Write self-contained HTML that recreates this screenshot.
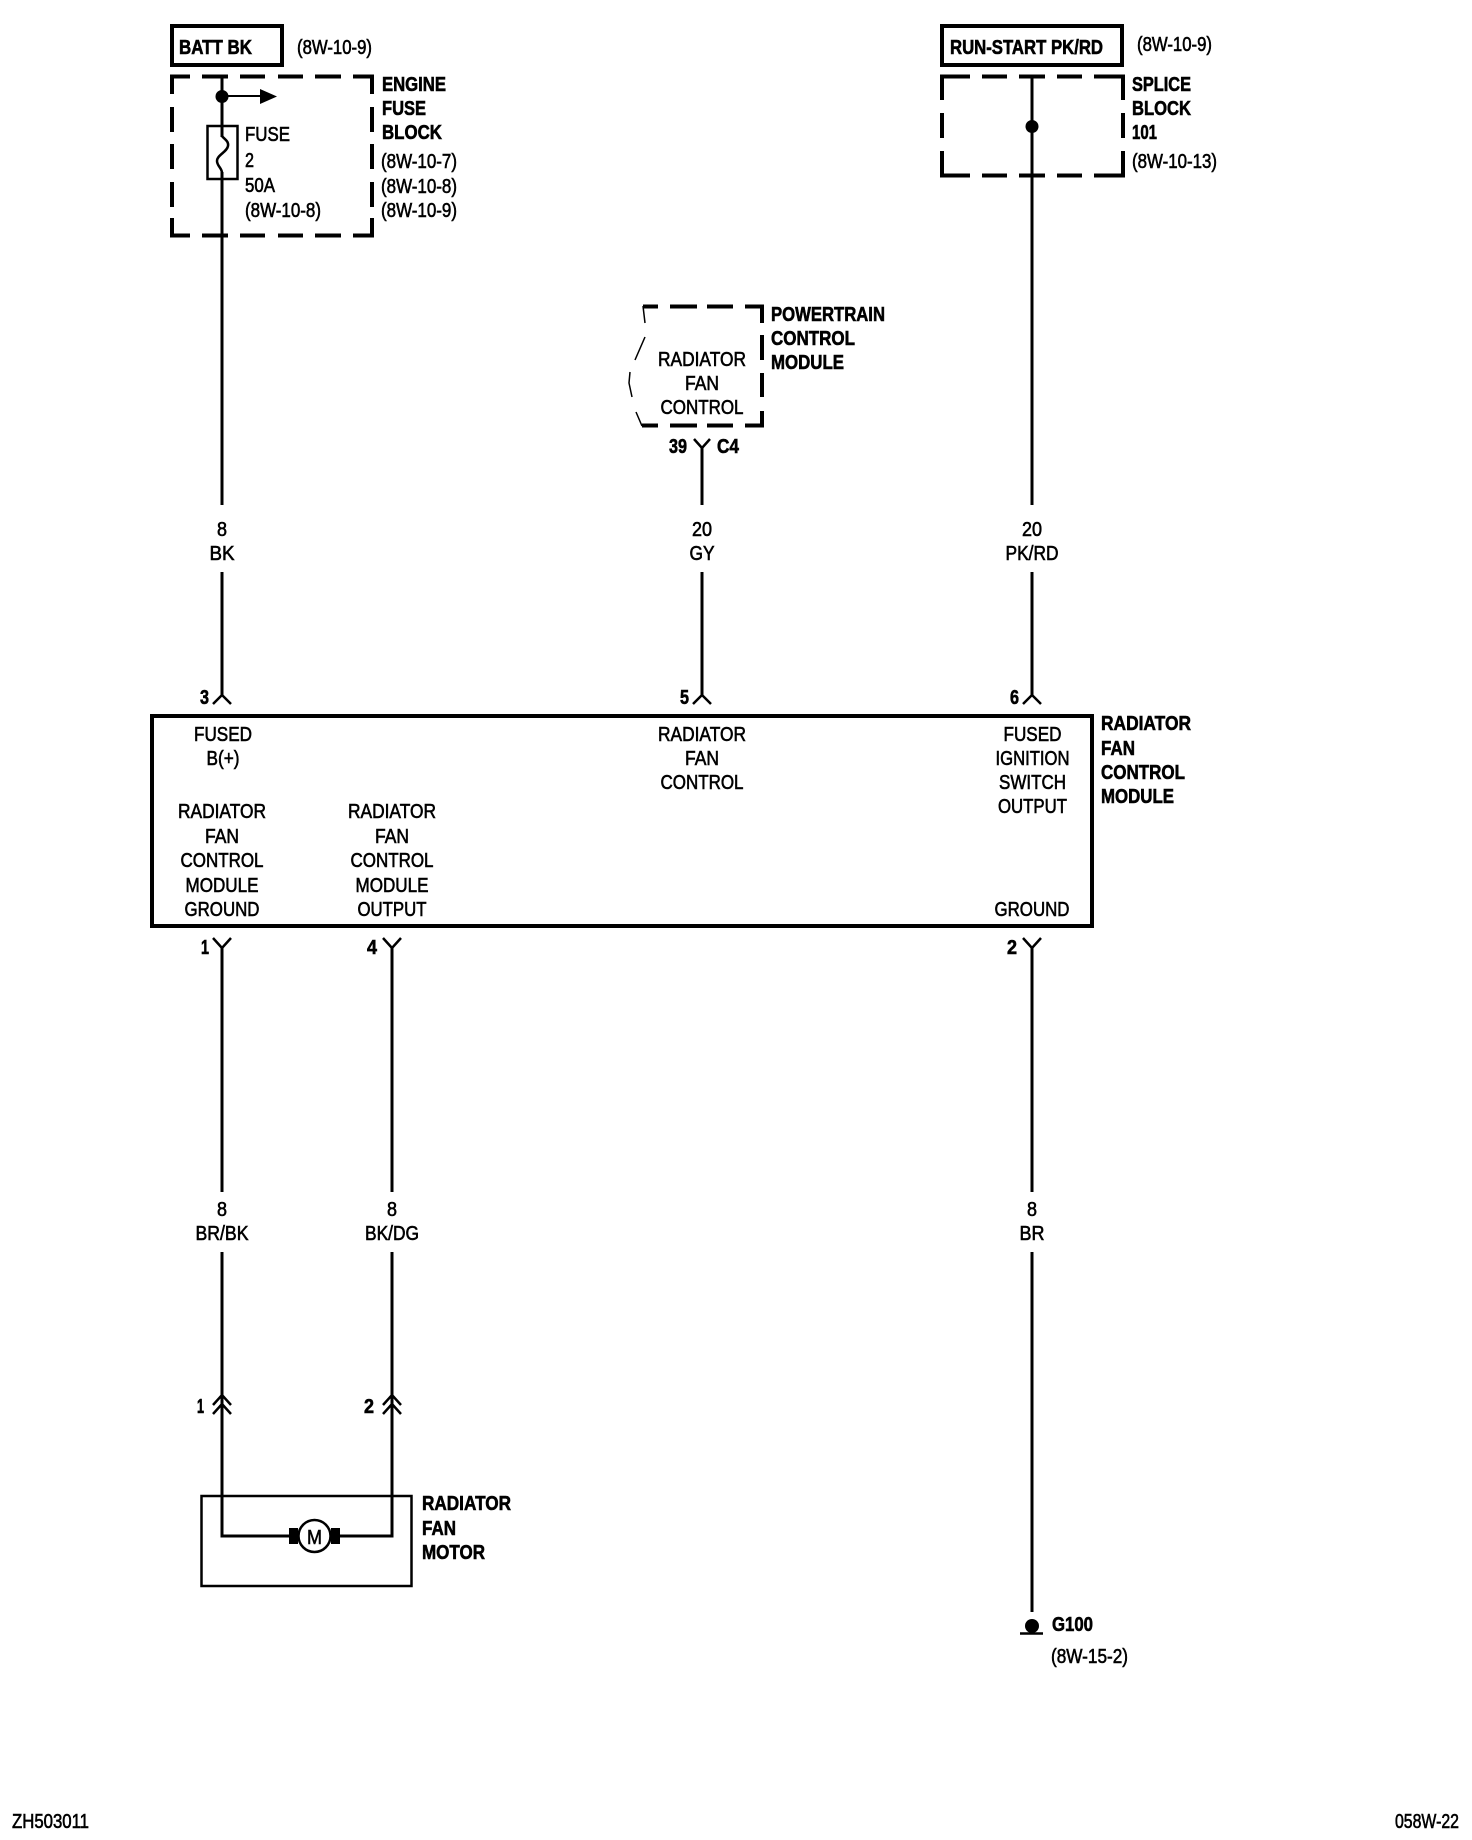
<!DOCTYPE html>
<html><head><meta charset="utf-8"><style>
html,body{margin:0;padding:0;background:#fff}
svg{display:block}
text{font-family:"Liberation Sans",sans-serif;font-size:20px;fill:#000;stroke:#000;stroke-width:.6px;white-space:pre}
.b{font-weight:bold}
.m{text-anchor:middle}
</style></head><body>
<svg xmlns="http://www.w3.org/2000/svg" width="1472" height="1840" viewBox="0 0 1472 1840">
<rect width="1472" height="1840" fill="#fff"/>
<g fill="none" stroke="#000" stroke-width="4">
<rect x="172" y="26" width="110" height="39"/>
<rect x="942" y="26" width="180" height="39"/>
<!-- fuse block dashes -->
<path d="M170 76.500H190M202 76.500H228M240 76.500H265M278 76.500H303M315 76.500H341M353 76.500H374M170 235.500H190M202 235.500H228M240 235.500H265M278 235.500H303M315 235.500H341M353 235.500H374M172 75V94M172 107V132M172 144V169M172 182V207M172 218V237M372 75V94M372 107V132M372 144V169M372 182V207M372 218V237"/>
<!-- splice block dashes -->
<path d="M940 76.500H970M982 76.500H1007M1019 76.500H1045M1057 76.500H1082M1094 76.500H1125M940 175.500H970M982 175.500H1007M1019 175.500H1045M1057 175.500H1082M1094 175.500H1125M942 75V100M942 113V138M942 151V177M1123 75V100M1123 113V138M1123 151V177"/>
<!-- PCM dashes -->
<path d="M643 306.500H658M670 306.500H697M707 306.500H733M745 306.500H764M642 425.500H658M670 425.500H697M707 425.500H733M745 425.500H764M762 305V323M762 335V360M762 373V397M762 411V427"/>
<!-- main module -->
<rect x="152" y="716" width="940" height="210" stroke-width="4"/>
<!-- wires -->
<path stroke-width="3" d="M222 75V137M222 172V505M222 572V695M702 448V505M702 572V695M1032 75V505M1032 572V695M222 948V1192M392 948V1192M1032 948V1192M222 1252V1536H289M392 1252V1536H340M1032 1252V1612"/>
</g>
<!-- PCM thin wavy edge -->
<path fill="none" stroke="#000" stroke-width="1.5" d="M643 306L645 323M645 337L635 360M630 372L629 383L632 397M636 412L642 426"/>
<!-- fuse -->
<rect x="207.500" y="126" width="30" height="53" fill="none" stroke="#000" stroke-width="2.500"/>
<path d="M222 136C224 139 229 141 228 146C227 152 217 155 217 161C217 166 222 168 222 173" fill="none" stroke="#000" stroke-width="2.500"/>
<!-- fuse block node and arrow -->
<circle cx="222" cy="96.500" r="6.500"/>
<path d="M222 96H262" stroke="#000" stroke-width="2"/>
<path d="M260 89L277 96.500L260 104Z"/>
<circle cx="1032" cy="126.500" r="6.500"/>
<!-- connectors -->
<g fill="none" stroke="#000" stroke-width="2.500">
<path d="M694 439L702 448L710 439"/>
<path d="M213 704L222 695L231 704M693 704L702 695L711 704M1023 704L1032 695L1041 704"/>
<path d="M213 938L222 948L231 938M383 938L392 948L401 938M1023 938L1032 948L1041 938"/>
<path d="M213 1405L222 1395L231 1405M213 1414L222 1404L231 1414M383 1405L392 1395L401 1405M383 1414L392 1404L401 1414"/>
</g>
<!-- motor -->
<rect x="201.500" y="1496" width="210" height="90" fill="none" stroke="#000" stroke-width="2.500"/>
<rect x="289" y="1528" width="9" height="16"/>
<rect x="331" y="1528" width="9" height="16"/>
<circle cx="314.500" cy="1536" r="16" fill="#fff" stroke="#000" stroke-width="2.500"/>
<!-- ground -->
<circle cx="1032" cy="1626" r="7"/>
<path d="M1020 1633.500H1043" stroke="#000" stroke-width="2.500"/>

<!-- bold labels -->
<text class="b" x="179" y="54" textLength="73" lengthAdjust="spacingAndGlyphs">BATT BK</text>
<text class="b" x="950" y="54" textLength="153" lengthAdjust="spacingAndGlyphs">RUN-START PK/RD</text>
<text class="b" x="382" y="91" textLength="64" lengthAdjust="spacingAndGlyphs">ENGINE</text>
<text class="b" x="382" y="115" textLength="44" lengthAdjust="spacingAndGlyphs">FUSE</text>
<text class="b" x="382" y="139" textLength="60" lengthAdjust="spacingAndGlyphs">BLOCK</text>
<text class="b" x="1132" y="91" textLength="59" lengthAdjust="spacingAndGlyphs">SPLICE</text>
<text class="b" x="1132" y="115" textLength="59" lengthAdjust="spacingAndGlyphs">BLOCK</text>
<text class="b" x="1132" y="139" textLength="25" lengthAdjust="spacingAndGlyphs">101</text>
<text class="b" x="771" y="321" textLength="114" lengthAdjust="spacingAndGlyphs">POWERTRAIN</text>
<text class="b" x="771" y="345" textLength="84" lengthAdjust="spacingAndGlyphs">CONTROL</text>
<text class="b" x="771" y="369" textLength="73" lengthAdjust="spacingAndGlyphs">MODULE</text>
<text class="b" x="1101" y="730" textLength="90" lengthAdjust="spacingAndGlyphs">RADIATOR</text>
<text class="b" x="1101" y="755" textLength="34" lengthAdjust="spacingAndGlyphs">FAN</text>
<text class="b" x="1101" y="779" textLength="84" lengthAdjust="spacingAndGlyphs">CONTROL</text>
<text class="b" x="1101" y="803" textLength="73" lengthAdjust="spacingAndGlyphs">MODULE</text>
<text class="b" x="422" y="1510" textLength="89" lengthAdjust="spacingAndGlyphs">RADIATOR</text>
<text class="b" x="422" y="1535" textLength="34" lengthAdjust="spacingAndGlyphs">FAN</text>
<text class="b" x="422" y="1559" textLength="63" lengthAdjust="spacingAndGlyphs">MOTOR</text>
<text class="b" x="1052" y="1631" textLength="41" lengthAdjust="spacingAndGlyphs">G100</text>
<text class="b" x="669" y="453" textLength="18" lengthAdjust="spacingAndGlyphs">39</text>
<text class="b" x="717" y="453" textLength="22" lengthAdjust="spacingAndGlyphs">C4</text>
<text class="b" x="200" y="704" textLength="9" lengthAdjust="spacingAndGlyphs">3</text>
<text class="b" x="680" y="704" textLength="9" lengthAdjust="spacingAndGlyphs">5</text>
<text class="b" x="1010" y="704" textLength="9" lengthAdjust="spacingAndGlyphs">6</text>
<text class="b" x="201" y="954" textLength="8" lengthAdjust="spacingAndGlyphs">1</text>
<text class="b" x="367" y="954" textLength="10" lengthAdjust="spacingAndGlyphs">4</text>
<text class="b" x="1007" y="954" textLength="10" lengthAdjust="spacingAndGlyphs">2</text>
<text class="b" x="197" y="1413" textLength="7" lengthAdjust="spacingAndGlyphs">1</text>
<text class="b" x="364" y="1413" textLength="10" lengthAdjust="spacingAndGlyphs">2</text>

<!-- references -->
<text x="297" y="54" textLength="75" lengthAdjust="spacingAndGlyphs">(8W-10-9)</text>
<text x="1137" y="51" textLength="75" lengthAdjust="spacingAndGlyphs">(8W-10-9)</text>
<text x="381" y="168" textLength="76" lengthAdjust="spacingAndGlyphs">(8W-10-7)</text>
<text x="381" y="193" textLength="76" lengthAdjust="spacingAndGlyphs">(8W-10-8)</text>
<text x="381" y="217" textLength="76" lengthAdjust="spacingAndGlyphs">(8W-10-9)</text>
<text x="1132" y="168" textLength="85" lengthAdjust="spacingAndGlyphs">(8W-10-13)</text>
<text x="1051" y="1663" textLength="77" lengthAdjust="spacingAndGlyphs">(8W-15-2)</text>
<text x="245" y="141" textLength="45" lengthAdjust="spacingAndGlyphs">FUSE</text>
<text x="245" y="167" textLength="9" lengthAdjust="spacingAndGlyphs">2</text>
<text x="245" y="192" textLength="30" lengthAdjust="spacingAndGlyphs">50A</text>
<text x="245" y="217" textLength="76" lengthAdjust="spacingAndGlyphs">(8W-10-8)</text>

<!-- PCM internal -->
<text class="m" x="702" y="366" textLength="88" lengthAdjust="spacingAndGlyphs">RADIATOR</text>
<text class="m" x="702" y="390" textLength="34" lengthAdjust="spacingAndGlyphs">FAN</text>
<text class="m" x="702" y="414" textLength="83" lengthAdjust="spacingAndGlyphs">CONTROL</text>

<!-- wire labels -->
<text class="m" x="222" y="536" textLength="10" lengthAdjust="spacingAndGlyphs">8</text>
<text class="m" x="222" y="560" textLength="25" lengthAdjust="spacingAndGlyphs">BK</text>
<text class="m" x="702" y="536" textLength="20" lengthAdjust="spacingAndGlyphs">20</text>
<text class="m" x="702" y="560" textLength="25" lengthAdjust="spacingAndGlyphs">GY</text>
<text class="m" x="1032" y="536" textLength="20" lengthAdjust="spacingAndGlyphs">20</text>
<text class="m" x="1032" y="560" textLength="53" lengthAdjust="spacingAndGlyphs">PK/RD</text>
<text class="m" x="222" y="1216" textLength="10" lengthAdjust="spacingAndGlyphs">8</text>
<text class="m" x="222" y="1240" textLength="53" lengthAdjust="spacingAndGlyphs">BR/BK</text>
<text class="m" x="392" y="1216" textLength="10" lengthAdjust="spacingAndGlyphs">8</text>
<text class="m" x="392" y="1240" textLength="54" lengthAdjust="spacingAndGlyphs">BK/DG</text>
<text class="m" x="1032" y="1216" textLength="10" lengthAdjust="spacingAndGlyphs">8</text>
<text class="m" x="1032" y="1240" textLength="25" lengthAdjust="spacingAndGlyphs">BR</text>

<!-- module internal -->
<text class="m" x="223" y="741" textLength="58" lengthAdjust="spacingAndGlyphs">FUSED</text>
<text class="m" x="223" y="765" textLength="33" lengthAdjust="spacingAndGlyphs">B(+)</text>
<text class="m" x="222" y="818" textLength="88" lengthAdjust="spacingAndGlyphs">RADIATOR</text>
<text class="m" x="222" y="843" textLength="34" lengthAdjust="spacingAndGlyphs">FAN</text>
<text class="m" x="222" y="867" textLength="83" lengthAdjust="spacingAndGlyphs">CONTROL</text>
<text class="m" x="222" y="892" textLength="73" lengthAdjust="spacingAndGlyphs">MODULE</text>
<text class="m" x="222" y="916" textLength="75" lengthAdjust="spacingAndGlyphs">GROUND</text>
<text class="m" x="392" y="818" textLength="88" lengthAdjust="spacingAndGlyphs">RADIATOR</text>
<text class="m" x="392" y="843" textLength="34" lengthAdjust="spacingAndGlyphs">FAN</text>
<text class="m" x="392" y="867" textLength="83" lengthAdjust="spacingAndGlyphs">CONTROL</text>
<text class="m" x="392" y="892" textLength="73" lengthAdjust="spacingAndGlyphs">MODULE</text>
<text class="m" x="392" y="916" textLength="69" lengthAdjust="spacingAndGlyphs">OUTPUT</text>
<text class="m" x="702" y="741" textLength="88" lengthAdjust="spacingAndGlyphs">RADIATOR</text>
<text class="m" x="702" y="765" textLength="34" lengthAdjust="spacingAndGlyphs">FAN</text>
<text class="m" x="702" y="789" textLength="83" lengthAdjust="spacingAndGlyphs">CONTROL</text>
<text class="m" x="1032.500" y="741" textLength="58" lengthAdjust="spacingAndGlyphs">FUSED</text>
<text class="m" x="1032.500" y="765" textLength="74" lengthAdjust="spacingAndGlyphs">IGNITION</text>
<text class="m" x="1032.500" y="789" textLength="67" lengthAdjust="spacingAndGlyphs">SWITCH</text>
<text class="m" x="1032.500" y="813" textLength="69" lengthAdjust="spacingAndGlyphs">OUTPUT</text>
<text class="m" x="1032" y="916" textLength="75" lengthAdjust="spacingAndGlyphs">GROUND</text>

<text class="m" x="314.500" y="1544" style="font-size:20px" textLength="15" lengthAdjust="spacingAndGlyphs">M</text>

<!-- footer -->
<text x="12" y="1828" textLength="77" lengthAdjust="spacingAndGlyphs">ZH503011</text>
<text x="1395" y="1828" textLength="64" lengthAdjust="spacingAndGlyphs">058W-22</text>
</svg>
</body></html>
